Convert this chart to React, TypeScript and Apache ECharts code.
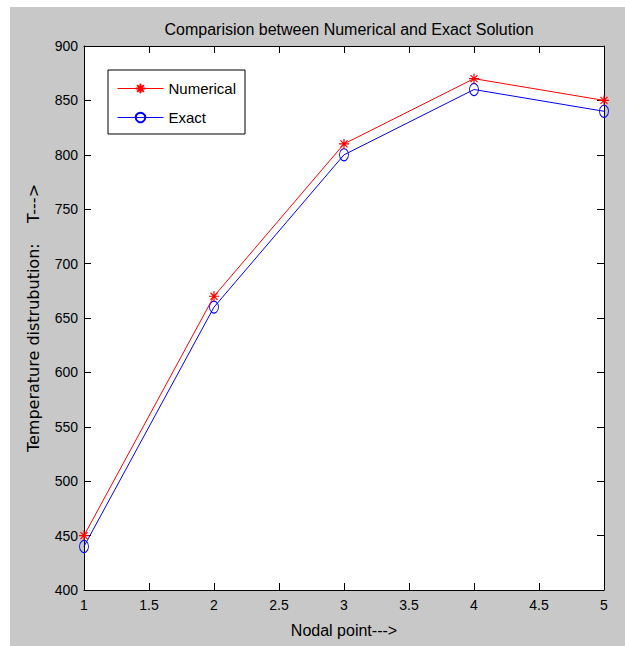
import React, { useEffect, useRef } from "react";
import * as echarts from "echarts";

const nodalPoints = [1, 2, 3, 4, 5];
const numerical = [450, 670, 810, 870, 850];
const exact = [440, 660, 800, 860, 840];

const FONT = "'Liberation Sans', Arial, sans-serif";

export default function App() {
  const ref = useRef<HTMLDivElement>(null);

  useEffect(() => {
    if (!ref.current) return;
    const chart = echarts.init(ref.current, null, { renderer: "svg" });
    const tickCommon = {
      show: true,
      inside: true,
      length: 7,
      lineStyle: { color: "#000", width: 1 },
    };
    const lineCommon = { show: true, lineStyle: { color: "#000", width: 1 } };
    chart.setOption({
      animation: false,
      textStyle: { fontFamily: FONT },
      title: {
        text: "Comparision between Numerical and Exact Solution",
        left: 344,
        textAlign: "center",
        top: 16,
        textStyle: { fontSize: 16, fontWeight: "normal", color: "#000", fontFamily: FONT },
      },
      grid: {
        left: 84,
        top: 46,
        width: 520,
        height: 544,
        show: true,
        backgroundColor: "#fff",
        borderWidth: 0,
      },
      legend: {
        left: 108,
        top: 70,
        orient: "vertical",
        backgroundColor: "#fff",
        borderColor: "#000",
        borderWidth: 1,
        padding: [11, 9, 9, 9],
        itemWidth: 46,
        itemHeight: 12,
        itemGap: 14,
        lineStyle: { width: 1 },
        textStyle: { fontSize: 15, color: "#000", fontFamily: FONT },
        data: ["Numerical", "Exact"],
      },
      xAxis: [
        {
          type: "value",
          min: 1,
          max: 5,
          interval: 0.5,
          position: "bottom",
          name: "Nodal point--->",
          nameLocation: "middle",
          nameGap: 32,
          nameTextStyle: { fontSize: 16, color: "#000", fontFamily: FONT },
          axisLine: lineCommon,
          axisTick: tickCommon,
          splitLine: { show: false },
          axisLabel: { color: "#000", fontSize: 14, margin: 8, fontFamily: FONT },
        },
        {
          type: "value",
          min: 1,
          max: 5,
          interval: 0.5,
          position: "top",
          axisLine: lineCommon,
          axisTick: tickCommon,
          splitLine: { show: false },
          axisLabel: { show: false },
        },
      ],
      yAxis: [
        {
          type: "value",
          min: 400,
          max: 900,
          interval: 50,
          position: "left",
          name: "Temperature distrubution:\u00a0\u00a0\u00a0\u00a0T--->",
          nameLocation: "middle",
          nameGap: 43,
          nameTextStyle: { fontSize: 16, color: "#000", fontFamily: "'DejaVu Sans', sans-serif" },
          axisLine: lineCommon,
          axisTick: tickCommon,
          splitLine: { show: false },
          axisLabel: { color: "#000", fontSize: 14, margin: 6, fontFamily: FONT },
        },
        {
          type: "value",
          min: 400,
          max: 900,
          interval: 50,
          position: "right",
          axisLine: lineCommon,
          axisTick: tickCommon,
          splitLine: { show: false },
          axisLabel: { show: false },
        },
      ],
      series: [
        {
          name: "Numerical",
          type: "line",
          xAxisIndex: 0,
          yAxisIndex: 0,
          data: nodalPoints.map((x, i) => [x, numerical[i]]),
          symbol: "path://M5,0 L5,10 M0,5 L10,5 M1.5,1.5 L8.5,8.5 M1.5,8.5 L8.5,1.5",
          symbolSize: 10,
          lineStyle: { color: "#ff0000", width: 1 },
          itemStyle: { color: "#ff0000", borderColor: "#ff0000", borderWidth: 1.2 },
          z: 3,
        },
        {
          name: "Exact",
          type: "line",
          xAxisIndex: 0,
          yAxisIndex: 0,
          data: nodalPoints.map((x, i) => [x, exact[i]]),
          symbol: "circle",
          symbolSize: [9, 12],
          lineStyle: { color: "#0000ff", width: 1 },
          itemStyle: { color: "rgba(255,255,255,0)", borderColor: "#0000ff", borderWidth: 1 },
          z: 2,
        },
      ],
    });
    return () => chart.dispose();
  }, []);

  return (
    <div style={{ position: "fixed", left: 0, top: 0, width: 625, height: 646, background: "#fff" }}>
      <div
        style={{
          position: "absolute",
          left: 10,
          top: 7,
          width: 615,
          height: 639,
          background: "#c8c8c8",
        }}
      />
      <div ref={ref} style={{ position: "absolute", left: 0, top: 0, width: 625, height: 646 }} />
    </div>
  );
}
